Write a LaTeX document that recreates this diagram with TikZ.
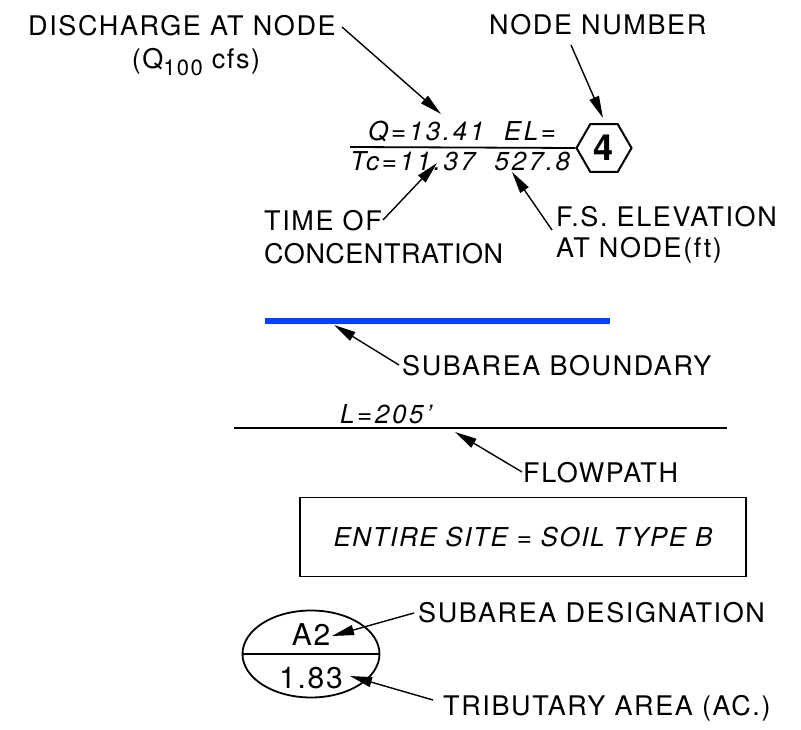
\documentclass[tikz,border=0pt]{standalone}
\usepackage{fontspec}
\setmainfont{TeX Gyre Heros}[LetterSpace=6]
\usetikzlibrary{arrows.meta,shapes.geometric}
\begin{document}
\begin{tikzpicture}[x=1pt,y=-1pt,
  lbl/.style={anchor=base west,inner sep=0pt,font=\fontsize{27}{29}\selectfont},
  ital/.style={anchor=base west,inner sep=0pt,font=\fontsize{26}{28}\selectfont\itshape\addfontfeature{LetterSpace=10}},
  leader/.style={line width=1.4pt,-{Triangle[length=22pt,width=10pt]}},
  thin/.style={line width=1.8pt}]
\useasboundingbox (0,0) rectangle (801,730);
% discharge
\node[lbl] (dis) at (28,36) {DISCHARGE AT NODE};
\node[anchor=base,inner sep=0pt,font=\fontsize{27}{29}\selectfont] (q100) at (196,69) {(Q\raisebox{-7pt}{\fontsize{22}{24}\selectfont 100}\,\,cfs)};
\node[lbl] (nn) at (489,35) {NODE NUMBER};
% node label
\node[regular polygon,regular polygon sides=6,draw,line width=2pt,minimum size=55pt,inner sep=0pt,font=\fontsize{36}{38}\selectfont\bfseries] (hex) at (604,148) {4};
\coordinate (lineL) at (350,147);
\draw[thin] (lineL) -- (hex.corner 3);
\node[ital] (qel) at (368,141) {Q=13.41\ \ EL=};
\node[ital] (tc) at (350,171) {Tc=11.37\ \ 527.8};
\coordinate (disT) at (342,27);
\coordinate (disH) at (441,114);
\draw[leader] (disT) -- (disH);
\coordinate (nnT) at (571,45);
\coordinate (nnH) at (603,118);
\draw[leader] (nnT) -- (nnH);
% time of concentration
\node[lbl] (toc1) at (264,231) {TIME OF};
\node[lbl,font=\fontsize{27}{29}\selectfont\addfontfeature{LetterSpace=2}] (toc2) at (264,264) {CONCENTRATION};
\coordinate (tocT) at (383,220);
\coordinate (tocH) at (437,163);
\draw[leader] (tocT) -- (tocH);
% F.S. elevation
\node[lbl] (fs1) at (556,227) {F.S. ELEVATION};
\node[lbl] (fs2) at (556,258) {AT NODE(ft)};
\coordinate (fsT) at (552,230);
\coordinate (fsH) at (512,172);
\draw[leader] (fsT) -- (fsH);
% subarea boundary
\coordinate (bL) at (265,321);
\coordinate (bR) at (610,321);
\draw[line width=6pt,color={rgb,255:red,0;green,64;blue,255}] (bL) -- (bR);
\node[lbl] (sb) at (402,375) {SUBAREA BOUNDARY};
\coordinate (sbT) at (399,365);
\coordinate (sbH) at (334,325);
\draw[leader] (sbT) -- (sbH);
% flowpath
\node[ital] (len) at (340,423) {L=205'};
\coordinate (fL) at (234,428);
\coordinate (fR) at (727,428);
\draw[line width=2.6pt] (fL) -- (fR);
\node[lbl] (fp) at (523,482) {FLOWPATH};
\coordinate (fpT) at (522,472);
\coordinate (fpH) at (455,432);
\draw[leader] (fpT) -- (fpH);
% soil box
\node[draw,line width=1.8pt,minimum width=446pt,minimum height=79pt,inner sep=0pt,font=\fontsize{26}{28}\selectfont\itshape] (soil) at (523,537) {ENTIRE SITE = SOIL TYPE B};
% ellipse
\node[ellipse,draw,line width=1.8pt,minimum width=137pt,minimum height=87pt,inner sep=0pt] (ell) at (311,654) {};
\draw[line width=1.8pt] (ell.west) -- (ell.east);
\node[anchor=base,inner sep=0pt,font=\fontsize{30}{32}\selectfont] (a2) at (311,645) {A2};
\node[anchor=base,inner sep=0pt,font=\fontsize{30}{32}\selectfont] (ac) at (311,688) {1.83};
\node[lbl] (sd) at (418,622) {SUBAREA DESIGNATION};
\node[lbl] (ta) at (443,715) {TRIBUTARY AREA (AC.)};
\coordinate (sdT) at (414,613);
\coordinate (sdH) at (332,636);
\draw[leader] (sdT) -- (sdH);
\coordinate (taT) at (433,700);
\coordinate (taH) at (350,676);
\draw[leader] (taT) -- (taH);
\end{tikzpicture}
\end{document}
